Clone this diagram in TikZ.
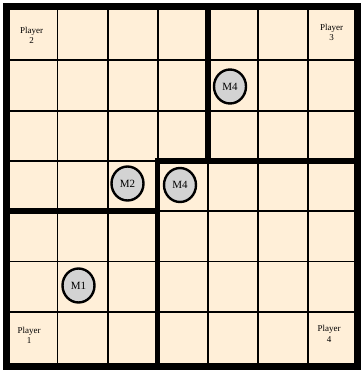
\documentclass[tikz,border=0pt]{standalone}
\usepackage{fontspec}
\setmainfont{Liberation Serif}
\usetikzlibrary{shapes.geometric}
\definecolor{board}{HTML}{FFEFD8}
\definecolor{tokengray}{HTML}{D3D3D3}
\begin{document}
\begin{tikzpicture}[x=1pt,y=-1pt,
  gridline/.style={line width=1.8pt},
  wall/.style={line width=5.5pt},
  frame/.style={line width=7pt},
  token/.style={ellipse, draw, line width=2.4pt, fill=tokengray,
    minimum width=32pt, minimum height=34pt, inner sep=0pt,
    font=\fontsize{11}{13}\selectfont},
  playertext/.style={align=center, inner sep=0pt,
    font=\fontsize{9}{10.5}\selectfont}]
\useasboundingbox (0,0) rectangle (360,372);
\fill[white] (0,0) rectangle (360,372);
\fill[board] (6.5,6.5) rectangle (357.5,366);
% thin grid
\foreach \i in {1,...,6}
  \draw[gridline] ({7.4+50.1*\i},6.5) -- ({7.4+50.1*\i},366);
\foreach \j in {1,...,6}
  \draw[gridline] (6.5,{10+50.3*\j}) -- (357.5,{10+50.3*\j});
% quadrant walls
\draw[wall] (207.8,6.5) -- (207.8,160.9);
\draw[wall] (157.7,366) -- (157.7,160.9) -- (357.5,160.9);
\draw[wall] (6.5,211.2) -- (157.7,211.2);
% outer frame
\draw[frame] (6.5,6.5) rectangle (357.5,366);
% tokens
\node[token] (m4a) at (230,86.5) {M4};
\node[token] (m2) at (127.5,183.5) {M2};
\node[token] (m4b) at (180,185) {M4};
\node[token] (m1) at (78.5,285.5) {M1};
% player labels
\node[playertext] (p2) at (31.5,35.5) {Player\\2};
\node[playertext] (p3) at (331.5,32.5) {Player\\3};
\node[playertext] (p1) at (29,335.5) {Player\\1};
\node[playertext] (p4) at (329,334) {Player\\4};
\end{tikzpicture}
\end{document}
